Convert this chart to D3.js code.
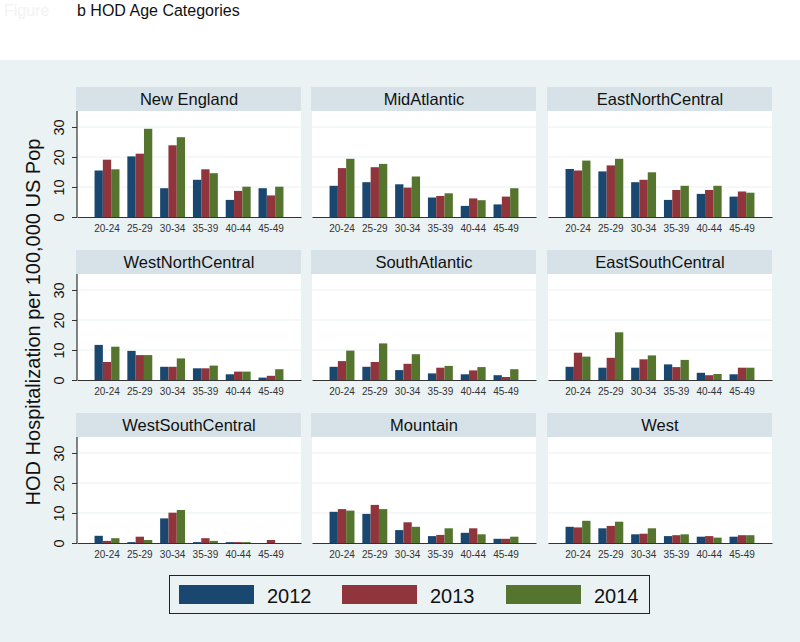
<!DOCTYPE html>
<html>
<head>
<meta charset="utf-8">
<script src="https://cdn.jsdelivr.net/npm/d3@7"></script>
<style>
  html, body { margin: 0; padding: 0; background: #ffffff; }
  svg { display: block; font-family: "Liberation Sans", Arial, Helvetica, sans-serif; }
</style>
</head>
<body>
<svg id="chart" width="800" height="642"></svg>
<script>
// ---------------- DATA ----------------
const ageGroups = ["20-24", "25-29", "30-34", "35-39", "40-44", "45-49"];
const years = ["2012", "2013", "2014"];
const regions = ["New England", "MidAtlantic", "EastNorthCentral",
                 "WestNorthCentral", "SouthAtlantic", "EastSouthCentral",
                 "WestSouthCentral", "Mountain", "West"];
const yTicks = [0, 10, 20, 30];

// values per region (rows) and age group (columns)
const values2012 = [
  [15.5, 20.2, 9.6, 12.4, 5.7, 9.6],
  [10.4, 11.6, 10.9, 6.5, 3.7, 4.2],
  [16.0, 15.2, 11.6, 5.7, 7.7, 6.8],
  [11.7, 9.7, 4.4, 3.9, 1.9, 0.8],
  [4.4, 4.4, 3.3, 2.2, 1.9, 1.6],
  [4.4, 4.1, 4.1, 5.2, 2.4, 1.9],
  [2.4, 0.3, 8.2, 0.3, 0.3, 0.0],
  [10.4, 9.7, 4.3, 2.3, 3.4, 1.4],
  [5.4, 4.9, 2.9, 2.3, 2.1, 2.1]
];
const values2013 = [
  [19.1, 21.1, 23.9, 15.9, 8.7, 7.2],
  [16.3, 16.6, 9.8, 7.0, 6.2, 6.8],
  [15.5, 17.2, 12.4, 9.0, 9.0, 8.5],
  [6.0, 8.3, 4.4, 3.9, 2.8, 1.4],
  [6.3, 6.0, 5.4, 4.1, 3.2, 1.0],
  [9.1, 7.4, 6.9, 4.3, 1.6, 4.1],
  [0.7, 2.1, 10.1, 1.6, 0.3, 1.0],
  [11.3, 12.7, 6.9, 2.7, 4.9, 1.4],
  [5.2, 5.7, 3.1, 2.6, 2.3, 2.6]
];
const values2014 = [
  [15.9, 29.4, 26.6, 14.6, 10.1, 10.1],
  [19.4, 17.7, 13.5, 7.9, 5.6, 9.6],
  [18.8, 19.4, 14.9, 10.4, 10.4, 8.1],
  [11.1, 8.3, 7.2, 4.8, 2.8, 3.6],
  [9.8, 12.2, 8.6, 4.7, 4.3, 3.6],
  [7.8, 15.9, 8.2, 6.7, 2.0, 4.1],
  [1.6, 1.0, 11.0, 0.7, 0.3, 0.0],
  [10.8, 11.3, 5.4, 4.9, 2.9, 2.1],
  [7.4, 7.1, 4.9, 2.9, 1.8, 2.6]
];
const seriesValues = [values2012, values2013, values2014];
const colors = ["#1a476f", "#90353b", "#55752f"];

// ---------------- LAYOUT ----------------
const svg = d3.select("#chart");
const W = 800, H = 642;
const bg = "#eaf2f3", stripFill = "#d6e2e8";

svg.append("rect").attr("x", 0).attr("y", 0).attr("width", W).attr("height", H).attr("fill", "#ffffff");
svg.append("rect").attr("x", 0).attr("y", 60).attr("width", W).attr("height", H - 60).attr("fill", bg);

// Title
svg.append("text").attr("x", 4).attr("y", 15.5).attr("font-size", 16).attr("fill", "#f3f3f3").text("Figure");
svg.append("text").attr("x", 77).attr("y", 15.5).attr("font-size", 16).attr("fill", "#111").text("b HOD Age Categories");

const colX = [77, 312, 548];
const zeroY = [217, 380, 543];
const plotW = 224, plotH = 106, stripH = 24;

const y = d3.scaleLinear().domain([0, 35.33]).range([plotH, 0]);
const x = d3.scaleBand().domain(ageGroups).range([0, plotW]).paddingInner(0.24).paddingOuter(0.535);
const xs = d3.scaleBand().domain(years).range([0, x.bandwidth()]).padding(0);

regions.forEach((reg, ri) => {
  const col = ri % 3, row = Math.floor(ri / 3);
  const gx = colX[col], gy = zeroY[row] - plotH;
  const g = svg.append("g").attr("transform", `translate(${gx},${gy})`);

  // strip header
  g.append("rect").attr("x", -1).attr("y", -stripH).attr("width", plotW + 1).attr("height", stripH).attr("fill", stripFill);
  g.append("text").attr("x", plotW / 2).attr("y", -6.5).attr("text-anchor", "middle")
    .attr("font-size", 16.5).attr("fill", "#111").text(reg);

  // plot region
  g.append("rect").attr("x", 0).attr("y", 0).attr("width", plotW).attr("height", plotH).attr("fill", "#ffffff");

  // gridlines
  g.selectAll(".grid").data(yTicks.filter(t => t > 0)).enter().append("line")
    .attr("x1", 0).attr("x2", plotW).attr("y1", d => y(d)).attr("y2", d => y(d))
    .attr("stroke", bg).attr("stroke-width", 1.2);

  // bars
  years.forEach((yr, si) => {
    g.selectAll(".bar" + si).data(ageGroups).enter().append("rect")
      .attr("x", a => x(a) + xs(yr))
      .attr("width", xs.bandwidth())
      .attr("y", (a, ai) => y(seriesValues[si][ri][ai]))
      .attr("height", (a, ai) => plotH - y(seriesValues[si][ri][ai]))
      .attr("fill", colors[si]);
  });

  // x axis
  const xa = g.append("g").attr("transform", `translate(0,${plotH})`)
    .call(d3.axisBottom(x).tickSize(0).tickPadding(8));
  xa.select(".domain").attr("stroke", "#333").attr("stroke-width", 1.2);
  xa.selectAll("text").attr("font-size", 10).attr("fill", "#333")
    .attr("font-family", "'Liberation Sans', Arial, sans-serif");

  // y axis in first column
  if (col === 0) {
    const ya = g.append("g").call(d3.axisLeft(y).tickValues(yTicks).tickSize(5).tickPadding(0).tickFormat(d3.format("d")));
    ya.select(".domain").attr("stroke", "#333").attr("stroke-width", 1.2).attr("d", `M0,0V${plotH}`);
    ya.selectAll(".tick line").attr("stroke", "#333");
    ya.selectAll(".tick text")
      .attr("font-size", 14.5).attr("fill", "#111")
      .attr("font-family", "'Liberation Sans', Arial, sans-serif")
      .attr("text-anchor", "middle")
      .attr("x", null).attr("dy", null)
      .attr("transform", "translate(-13.5,0) rotate(-90)")
      .attr("y", 0);
  }
});

// y axis title
svg.append("text")
  .attr("transform", "translate(40,322) rotate(-90)")
  .attr("text-anchor", "middle").attr("font-size", 20).attr("fill", "#111")
  .text("HOD Hospitalization per 100,000 US Pop");

// legend
const lg = svg.append("g");
lg.append("rect").attr("x", 169.5).attr("y", 575.5).attr("width", 480).attr("height", 38)
  .attr("fill", bg).attr("stroke", "#222").attr("stroke-width", 1);
const legX = [179, 342, 506];
years.forEach((yr, i) => {
  lg.append("rect").attr("x", legX[i]).attr("y", 585).attr("width", 75).attr("height", 19).attr("fill", colors[i]);
  lg.append("text").attr("x", legX[i] + 88).attr("y", 603).attr("font-size", 20).attr("fill", "#111").text(yr);
});
</script>
</body>
</html>
